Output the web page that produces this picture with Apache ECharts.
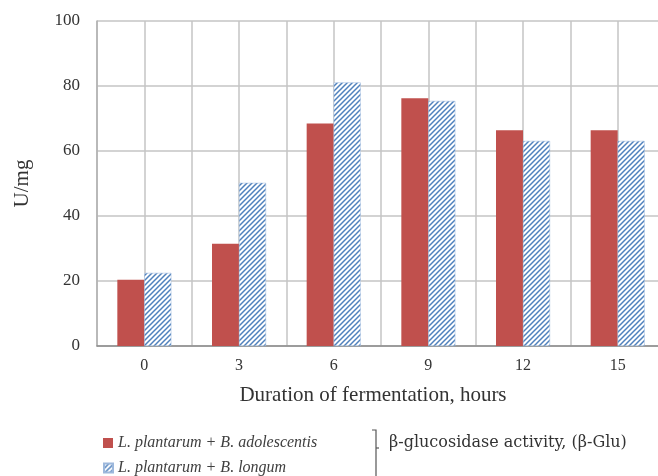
<!DOCTYPE html>
<html>
<head>
<meta charset="utf-8">
<script src="https://cdn.jsdelivr.net/npm/echarts@6/dist/echarts.min.js"></script>
<style>
html,body{margin:0;padding:0;background:#fff;}
#chart{width:658px;height:476px;}
</style>
</head>
<body>
<div id="chart"></div>
<script>
var categories = ['0', '3', '6', '9', '12', '15'];
var adolescentis = [20.4, 31.5, 68.5, 76.2, 66.4, 66.4];
var longum = [22.5, 50.2, 81.1, 75.4, 63.1, 63.1];
var seriesNames = ['L. plantarum + B. adolescentis', 'L. plantarum + B. longum'];
var yTicks = [0, 20, 40, 60, 80, 100];

function hatch() {
  var c = document.createElement('canvas');
  var s = 5;
  c.width = s; c.height = s;
  var g = c.getContext('2d');
  g.fillStyle = '#ffffff';
  g.fillRect(0, 0, s, s);
  g.strokeStyle = '#4f81bd';
  g.lineWidth = 1.5;
  g.beginPath();
  g.moveTo(-1, s + 1); g.lineTo(s + 1, -1);
  g.moveTo(-1, 1); g.lineTo(1, -1);
  g.moveTo(s - 1, s + 1); g.lineTo(s + 1, s - 1);
  g.stroke();
  return c;
}

var serif = '"Liberation Serif", "DejaVu Serif", serif';
var legendText = {fontFamily: serif, fontStyle: 'italic', fontSize: 16, color: '#404040'};
var chart = echarts.init(document.getElementById('chart'), null, {renderer: 'canvas'});
chart.setOption({
  animation: false,
  backgroundColor: '#ffffff',
  grid: {left: 97, top: 21, right: -7, bottom: 130, containLabel: false, outerBoundsMode: 'none'},
  legend: [{
    left: 98, top: 430,
    itemWidth: 10, itemHeight: 10, itemGap: 4,
    icon: 'rect',
    textStyle: legendText,
    data: [seriesNames[0]]
  }, {
    left: 98, top: 455,
    itemWidth: 9, itemHeight: 9, itemGap: 4,
    icon: 'rect',
    textStyle: legendText,
    data: [seriesNames[1]]
  }],
  xAxis: [{
    type: 'category',
    data: categories,
    axisLine: {lineStyle: {color: '#8a8a8a', width: 1.5}},
    axisTick: {show: false},
    axisLabel: {fontFamily: serif, fontSize: 16, color: '#333', margin: 12},
    splitLine: {show: false}
  }, {
    type: 'value',
    min: -0.5, max: 5.5, interval: 0.5,
    show: true,
    axisLine: {show: false}, axisTick: {show: false}, axisLabel: {show: false},
    splitLine: {show: true, lineStyle: {color: '#c4c4c4', width: 1.5}}
  }],
  yAxis: {
    type: 'value',
    min: yTicks[0], max: yTicks[yTicks.length - 1], interval: 20,
    axisLine: {show: true, onZero: false, lineStyle: {color: '#b0b0b0', width: 1.5}},
    axisTick: {show: false},
    axisLabel: {fontFamily: serif, fontSize: 17, color: '#333', margin: 17},
    splitLine: {lineStyle: {color: '#c4c4c4', width: 1.5}},
    name: 'U/mg',
    nameLocation: 'middle',
    nameGap: 64,
    nameRotate: 90,
    nameTextStyle: {fontFamily: serif, fontSize: 21, color: '#333'}
  },
  series: [{
    name: seriesNames[0],
    type: 'bar',
    xAxisIndex: 0,
    data: adolescentis,
    barWidth: 27,
    barGap: '0%',
    itemStyle: {color: '#c0504d'}
  }, {
    name: seriesNames[1],
    type: 'bar',
    xAxisIndex: 0,
    data: longum,
    barWidth: 27,
    barGap: '0%',
    itemStyle: {color: {image: hatch(), repeat: 'repeat'}, borderColor: '#9db8dc', borderWidth: 0.5}
  }],
  graphic: [{
    type: 'text',
    x: 373, y: 395,
    style: {text: 'Duration of fermentation, hours', font: '21px ' + serif, fill: '#333', align: 'center', verticalAlign: 'middle'}
  }, {
    type: 'polyline',
    shape: {points: [[372, 430], [376, 430], [376, 476]]},
    style: {stroke: '#555', lineWidth: 1.2, fill: null}
  }, {
    type: 'line',
    shape: {x1: 376, y1: 448, x2: 379, y2: 448},
    style: {stroke: '#555', lineWidth: 1.2}
  }, {
    type: 'text',
    x: 389, y: 443,
    style: {text: 'β-glucosidase activity, (β-Glu)', font: '16px "DejaVu Serif", serif', fill: '#333', align: 'left', verticalAlign: 'middle'}
  }]
});
</script>
</body>
</html>
